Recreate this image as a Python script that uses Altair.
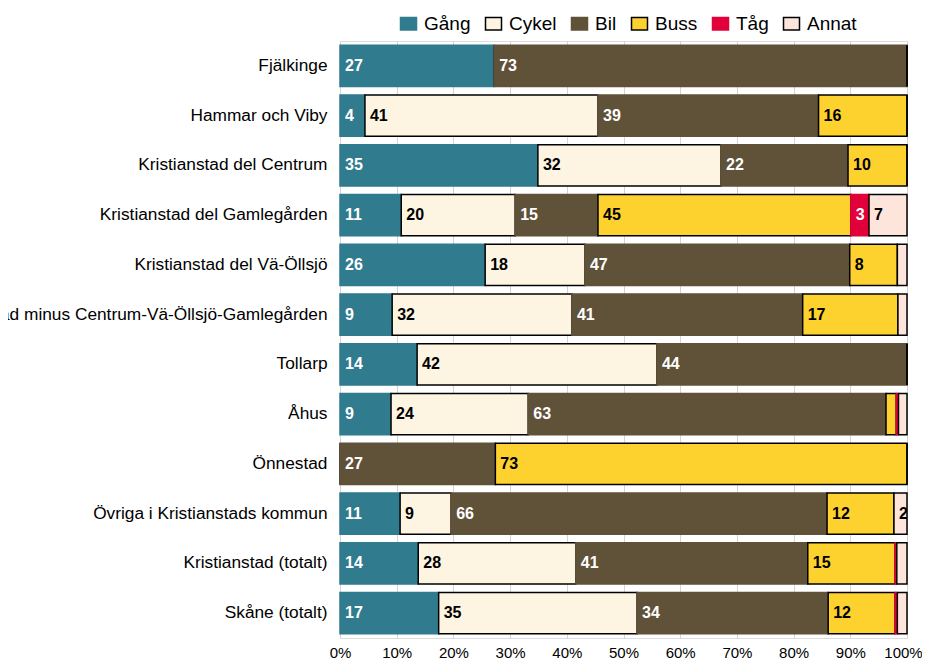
import altair as alt
import pandas as pd

categories = [
    "Fjälkinge",
    "Hammar och Viby",
    "Kristianstad del Centrum",
    "Kristianstad del Gamlegården",
    "Kristianstad del Vä-Öllsjö",
    "Kristianstad minus Centrum-Vä-Öllsjö-Gamlegården",
    "Tollarp",
    "Åhus",
    "Önnestad",
    "Övriga i Kristianstads kommun",
    "Kristianstad (totalt)",
    "Skåne (totalt)",
]
modes = ["Gång", "Cykel", "Bil", "Buss", "Tåg", "Annat"]

gang = [27.2, 4.4, 34.9, 10.8, 25.6, 9.2, 13.6, 9.0, 0.0, 10.6, 13.8, 17.4]
cykel = [0.0, 41.1, 32.3, 20.1, 17.6, 31.7, 42.3, 24.2, 0.0, 9.0, 27.8, 35.0]
bil = [72.8, 38.9, 22.4, 14.6, 46.7, 40.7, 44.1, 63.1, 27.4, 66.3, 40.9, 33.7]
buss = [0.0, 15.6, 10.4, 44.6, 8.4, 16.8, 0.0, 1.8, 72.6, 11.8, 15.4, 11.8]
tag = [0.0, 0.0, 0.0, 3.2, 0.0, 0.0, 0.0, 0.4, 0.0, 0.0, 0.3, 0.4]
annat = [0.0, 0.0, 0.0, 6.7, 1.7, 1.6, 0.0, 1.5, 0.0, 2.3, 1.8, 1.7]

fill_colors = ["#317b8f", "#fdf5e2", "#605139", "#fdd22f", "#e2003b", "#fde5dc"]
stroke_colors = ["#317b8f", "#000000", "#605139", "#000000", "#e2003b", "#000000"]

series = [gang, cykel, bil, buss, tag, annat]
rows = []
for mi, (m, vals) in enumerate(zip(modes, series)):
    for ci, c in enumerate(categories):
        rows.append({"cat": c, "mode": m, "order": mi, "value": vals[ci]})
df = pd.DataFrame(rows)

FONT = "Liberation Sans"

base = alt.Chart(df).transform_filter(
    "datum.value > 0 || datum.mode == 'Cykel' || datum.mode == 'Buss' || datum.mode == 'Annat'"
).transform_stack(
    stack="value", groupby=["cat"], as_=["x0", "x1"], sort=[alt.SortField("order")]
)

xscale = alt.Scale(domain=[0, 100], nice=False, zero=True)
yenc = alt.Y(
    "cat:N",
    sort=categories,
    scale=alt.Scale(paddingInner=0.17, paddingOuter=0.085),
    axis=alt.Axis(
        title=None,
        domain=False,
        ticks=False,
        labelFont=FONT,
        labelFontSize=17.3,
        labelColor="#000000",
        labelPadding=13,
        labelLimit=1000,
    ),
)

legend_kw = dict(
    title=None,
    orient="none",
    direction="horizontal",
    legendX=59,
    legendY=-27,
    symbolType="M-1,-0.78H1V0.78H-1Z",
    symbolSize=256,
    symbolStrokeWidth=1.5,
    symbolOpacity=1,
    labelFont=FONT,
    labelFontSize=19,
    labelColor="#000000",
    labelOffset=6,
    columnPadding=11,
    padding=0,
    labelLimit=300,
)

bars = base.mark_bar(strokeWidth=1.5).encode(
    x=alt.X(
        "x0:Q",
        scale=xscale,
        axis=alt.Axis(
            title=None,
            values=list(range(0, 101, 10)),
            labelExpr="datum.value + '%'",
            labelOverlap=False,
            labelFlush=False,
            domain=False,
            ticks=False,
            grid=True,
            gridColor="#d4d4d4",
            gridWidth=1,
            labelFont=FONT,
            labelFontSize=15,
            labelColor="#000000",
            labelPadding=7,
            labelOffset={"condition": {"test": "datum.value == 100", "value": -4}, "value": 0},
        ),
    ),
    x2="x1:Q",
    y=yenc,
    fill=alt.Fill(
        "mode:N",
        scale=alt.Scale(domain=modes, range=fill_colors),
        sort=modes,
        legend=alt.Legend(**legend_kw),
    ),
    stroke=alt.Stroke(
        "mode:N",
        scale=alt.Scale(domain=modes, range=stroke_colors),
        sort=modes,
        legend=alt.Legend(**legend_kw),
    ),
    order=alt.Order("order:Q"),
)

labels = base.transform_filter("datum.value >= 2").transform_calculate(
    label="format(datum.value, '.0f')",
    tcolor="(datum.mode == 'Gång' || datum.mode == 'Bil' || datum.mode == 'Tåg') ? '#ffffff' : '#000000'",
).mark_text(
    align="left", baseline="middle", dx=5, font=FONT, fontSize=16, fontWeight="bold", clip=True
).encode(
    x=alt.X("x0:Q", scale=xscale),
    y=alt.Y("cat:N", sort=categories),
    text="label:N",
    color=alt.Color("tcolor:N", scale=None),
)

chart = (
    alt.layer(bars, labels)
    .properties(
        width=567,
        height=597,
        autosize=alt.AutoSizeParams(type="none"),
        padding={"left": 332, "top": 33, "right": 15, "bottom": 22},
    )
    .configure_view(stroke=None)
    .configure(background="#ffffff")
)

chart.save("out.html", embed_options={"renderer": "svg", "actions": False})
